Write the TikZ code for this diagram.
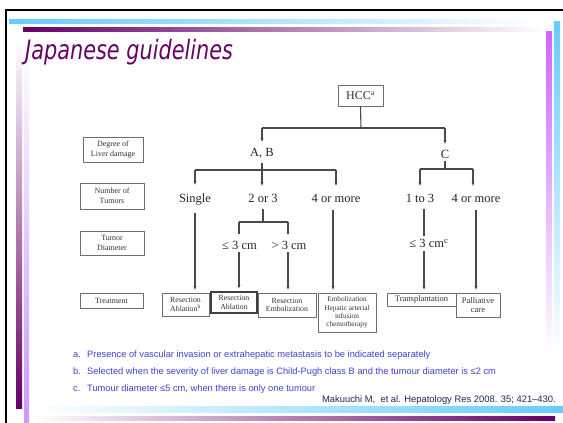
\documentclass[tikz,border=0pt]{standalone}
\usepackage{fontspec}
\setmainfont{Liberation Serif}
\newfontfamily\titlefont[FakeStretch=0.78]{DejaVu Sans}
\newfontfamily\notefont{Liberation Sans}
\usetikzlibrary{arrows.meta}
\definecolor{cyanbar}{HTML}{66CCFF}
\definecolor{plum}{HTML}{660066}
\definecolor{violetbar}{HTML}{CC66FF}
\definecolor{lavbar}{HTML}{CC99FF}
\definecolor{notecol}{HTML}{4040D0}
\definecolor{citecol}{HTML}{1E2A5A}
\definecolor{linecol}{HTML}{4A4A4A}
\definecolor{boxcol}{HTML}{6E6E6E}
\begin{document}
\begin{tikzpicture}[x=1pt,y=-1pt,
  conn/.style={draw=linecol, line width=1.1pt},
  arr/.style={conn, -{Stealth[length=3.5pt,width=3pt]}},
  lbl/.style={font=\fontsize{12.5}{14}\selectfont, inner sep=0pt, text=black!85},
  tbox/.style={draw=boxcol, line width=0.9pt, fill=white, align=center, inner sep=1pt,
    font=\fontsize{7.8}{8.6}\selectfont, text=black!80},
  sidebox/.style={tbox, font=\fontsize{8}{10}\selectfont},
  note/.style={font=\notefont\fontsize{9.3}{11}\selectfont, text=notecol, inner sep=0pt},
]
\useasboundingbox (0,0) rectangle (563,423);
\fill[white] (0,0) rectangle (563,423);
% frame
\draw[black, line width=2pt] (5,9.5) -- (563,9.5);
\draw[black, line width=2pt] (6,8.5) -- (6,423);
% top bars
\shade[left color=cyanbar, right color=white] (9,19.5) rectangle (545,23.5);
\shade[left color=plum, right color=white] (23,27) rectangle (545,31);
% right bars
\shade[top color=violetbar, bottom color=white] (546,31) rectangle (552,355);
\shade[top color=cyanbar, bottom color=white] (554,21) rectangle (560,355);
% left bars
\shade[top color=white, bottom color=plum] (16,40) rectangle (22,408);
\shade[top color=white, bottom color=lavbar] (24,40) rectangle (29,423);
% bottom bars
\shade[left color=white, right color=cyanbar] (30,406) rectangle (563,412);
\shade[left color=white, right color=plum] (33,416) rectangle (555,420.5);
% title
\node[anchor=base west, inner sep=0pt, text=plum, font=\titlefont\itshape\fontsize{26.7}{30}\selectfont] (title) at (25,59) {Japanese guidelines};

% side boxes
\node[sidebox, minimum width=60pt, minimum height=25pt] (deg) at (113,149.5) {Degree of\\Liver damage};
\node[sidebox, minimum width=64pt, minimum height=26pt] (num) at (112,196) {Number of\\Tumors};
\node[sidebox, minimum width=64pt, minimum height=24pt] (dia) at (112,243) {Tumor\\Diameter};
\node[sidebox, minimum width=63pt, minimum height=15pt] (trt) at (111.5,300.5) {Treatment};

% HCC
\node[tbox, font=\fontsize{12}{14}\selectfont, minimum width=45pt, minimum height=21pt] (hcc) at (360.5,95.5) {HCC\textsuperscript{a}};
\node[lbl] (ab) at (262,153) {A, B};
\node[lbl] (c) at (445,154) {C};
\coordinate (j1) at (361,128);
\coordinate (jab) at (262,128);
\coordinate (jc) at (445,128);
\draw[conn] (hcc.south) -- (j1);
\draw[conn] (jab) -- (jc);
\draw[arr, shorten >=6pt] (jab) -- (ab.north);
\draw[arr, shorten >=6pt] (jc) -- (c.north);

% second row
\node[lbl] (single) at (195,199.5) {Single};
\node[lbl] (two3) at (263,198) {2 or 3};
\node[lbl] (four1) at (336,198) {4 or more};
\node[lbl] (one3) at (420,198) {1 to 3};
\node[lbl] (four2) at (476,198) {4 or more};

\coordinate (jab2) at (262,170);
\coordinate (jl2) at (195,170);
\coordinate (jr2) at (336,170);
\draw[conn, shorten <=5pt] (ab.south) -- (jab2);
\draw[conn] (jl2) -- (jr2);
\draw[arr, shorten >=9pt] (jl2) -- (single.north);
\draw[arr, shorten >=8pt] (jab2) -- (jab2 |- two3.north);
\draw[arr, shorten >=8pt] (jr2) -- (four1.north);

\coordinate (jc2) at (445,169);
\coordinate (jcl) at (420,169);
\coordinate (jcr) at (473,169);
\draw[conn, shorten <=3pt] (c.south) -- (jc2);
\draw[conn] (jcl) -- (jcr);
\draw[arr, shorten >=8pt] (jcl) -- (one3.north);
\draw[arr, shorten >=8pt] (jcr) -- (jcr |- four2.north);

% diameter row
\node[lbl] (le3a) at (239.5,245) {≤ 3 cm};
\node[lbl] (gt3) at (289,245) {> 3 cm};
\node[lbl] (le3c) at (429,243.5) {≤ 3 cm\textsuperscript{c}};
\coordinate (j23) at (263,222);
\coordinate (j23l) at (239,222);
\coordinate (j23r) at (288,222);
\draw[conn, shorten <=7pt] (two3.south) -- (j23);
\draw[conn] (j23l) -- (j23r);
\draw[conn, shorten >=7pt] (j23l) -- (j23l |- le3a.north);
\draw[conn, shorten >=7pt] (j23r) -- (j23r |- gt3.north);
\draw[conn, shorten <=7pt, shorten >=3pt] ([xshift=4pt]one3.south) -- ([xshift=4pt]one3.south |- le3c.north);

% treatment boxes
\node[tbox, minimum width=47pt, minimum height=23pt] (t1) at (185.5,304.5) {Resection\\Ablation\textsuperscript{b}};
\node[tbox, draw=black!75, line width=1.4pt, minimum width=46pt, minimum height=21pt] (t2) at (234,302.5) {Resection\\Ablation};
\node[tbox, minimum width=58pt, minimum height=24pt] (t3) at (287,305) {Resection\\Embolization};
\node[tbox, minimum width=58pt, minimum height=39pt, font=\fontsize{7.3}{8.3}\selectfont] (t4) at (347,312.5) {Embolization\\Hepatic arterial\\infusion\\chemotherapy};
\node[tbox, minimum width=69pt, minimum height=13pt, font=\fontsize{8.5}{9.5}\selectfont] (t5) at (421.5,299.5) {Transplantation};
\node[tbox, minimum width=44pt, minimum height=24pt, font=\fontsize{8.5}{9.5}\selectfont] (t6) at (478,305) {Palliative\\care};

\draw[arr, shorten <=8pt, shorten >=3pt] (single.south) -- (single.south |- t1.north);
\draw[arr, shorten <=3pt, shorten >=3pt] (le3a.south -| j23l) -- (j23l |- t2.north);
\draw[arr, shorten <=3pt, shorten >=3pt] (gt3.south -| j23r) -- (j23r |- t3.north);
\draw[arr, shorten <=8pt, shorten >=3pt] ([xshift=-3pt]four1.south) -- ([xshift=-3pt]four1.south |- t4.north);
\draw[arr, shorten <=3pt, shorten >=3pt] ([xshift=-5pt]le3c.south) -- ([xshift=-5pt]le3c.south |- t5.north);
\draw[arr, shorten <=8pt, shorten >=3pt] (four2.south) -- (four2.south |- t6.north);

% footnotes
\node[note, anchor=base west] (fa) at (73,357) {a.};
\node[note, anchor=base west] (fat) at (87,357) {Presence of vascular invasion or extrahepatic metastasis to be indicated separately};
\node[note, anchor=base west] (fb) at (73,374.5) {b.};
\node[note, anchor=base west] (fbt) at (87,374.5) {Selected when the severity of liver damage is Child-Pugh class B and the tumour diameter is ≤2 cm};
\node[note, anchor=base west] (fc) at (73,391.5) {c.};
\node[note, anchor=base west] (fct) at (87,391.5) {Tumour diameter ≤5 cm, when there is only one tumour};
\node[note, text=citecol, font=\notefont\fontsize{9.4}{11}\selectfont, anchor=base east] (cite) at (556,402) {Makuuchi M,\ \ et al. Hepatology Res 2008. 35; 421–430.};
\end{tikzpicture}
\end{document}
